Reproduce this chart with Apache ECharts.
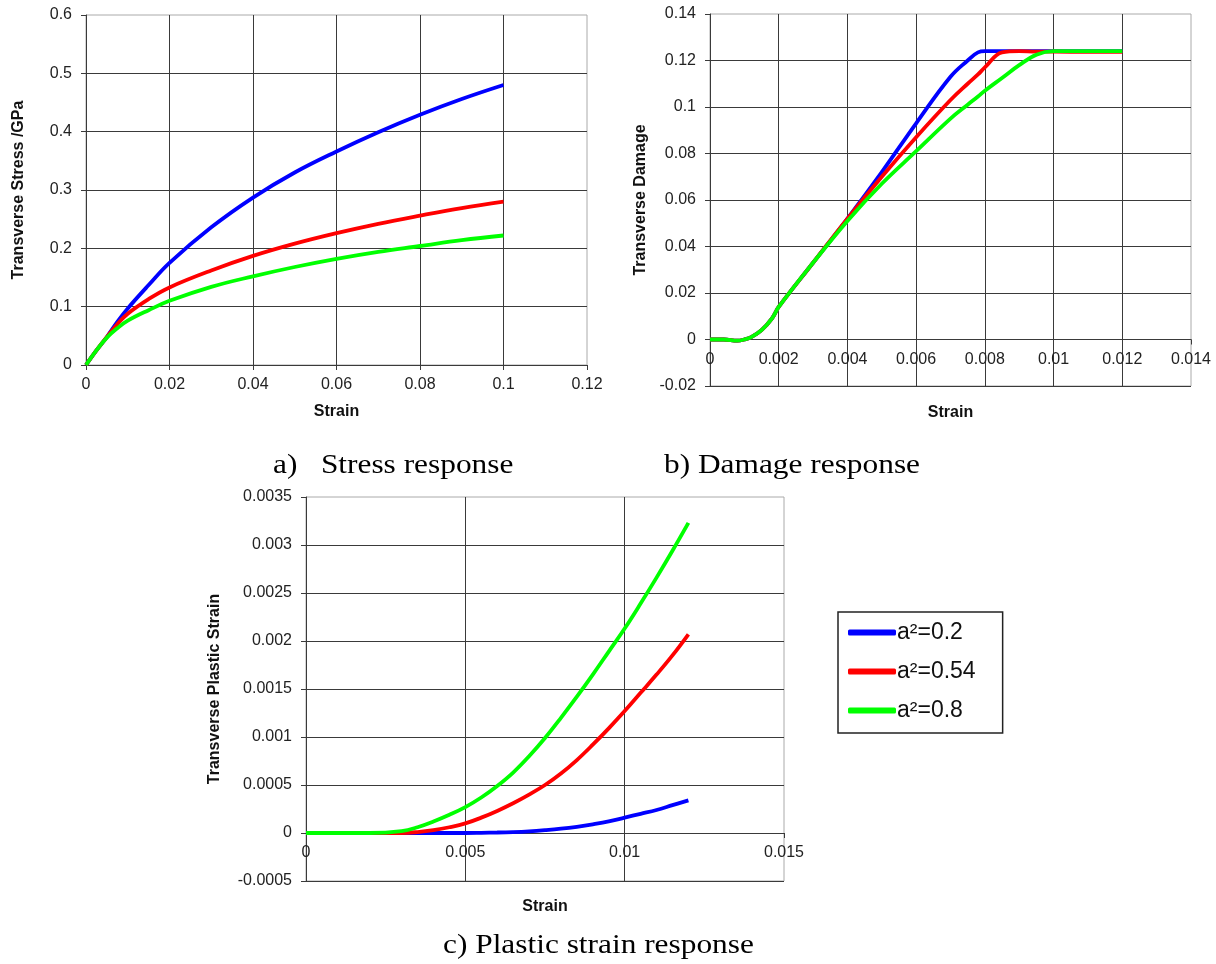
<!DOCTYPE html>
<html>
<head>
<meta charset="UTF-8">
<title>Transverse response</title>
<script src="https://cdn.jsdelivr.net/npm/echarts@6/dist/echarts.min.js"></script>
<style>
  body { margin: 0; background: #fff; }
  #root { width: 1216px; height: 964px; }
</style>
</head>
<body>
<div id="root"></div>
<script>
// legend names
var seriesNames = ['a\u00b2=0.2', 'a\u00b2=0.54', 'a\u00b2=0.8'];
var seriesColors = ['#0000ff', '#ff0000', '#00ff00'];

// a) stress response
var stressX = [0, 0.0025, 0.005, 0.0075, 0.01, 0.015, 0.02, 0.03, 0.04, 0.05, 0.06, 0.07, 0.08, 0.09, 0.1];
var stressBlue = [0, 0.025, 0.048, 0.074, 0.097, 0.137, 0.175, 0.236, 0.287, 0.33, 0.366, 0.399, 0.429, 0.456, 0.48];
var stressRed = [0, 0.025, 0.048, 0.07, 0.088, 0.113, 0.133, 0.162, 0.187, 0.208, 0.226, 0.242, 0.256, 0.269, 0.28];
var stressGreen = [0, 0.025, 0.047, 0.063, 0.076, 0.094, 0.11, 0.134, 0.152, 0.168, 0.182, 0.194, 0.204, 0.214, 0.222];

// b) damage response
var damageX = [0, 0.0004, 0.0008, 0.001, 0.0012, 0.0015, 0.0018, 0.002, 0.003, 0.004, 0.005, 0.006, 0.007, 0.0075, 0.0078, 0.008, 0.0085, 0.009, 0.0095, 0.01, 0.011, 0.012];
var damageBlue = [0, 0, -0.0005, 0, 0.001, 0.004, 0.009, 0.014, 0.033, 0.052, 0.072, 0.093, 0.113, 0.12, 0.1235, 0.124, 0.124, 0.124, 0.124, 0.124, 0.124, 0.124];
var damageRed = [0, 0, -0.0005, 0, 0.001, 0.004, 0.009, 0.014, 0.033, 0.052, 0.07, 0.087, 0.103, 0.11, 0.114, 0.117, 0.1235, 0.124, 0.1238, 0.1238, 0.1237, 0.1237];
var damageGreen = [0, 0, -0.0005, 0, 0.001, 0.004, 0.009, 0.014, 0.033, 0.051, 0.067, 0.081, 0.095, 0.101, 0.1045, 0.107, 0.1125, 0.118, 0.1225, 0.124, 0.124, 0.124];

// c) plastic strain response
var plasticX = [0, 0.001, 0.002, 0.003, 0.0035, 0.004, 0.0045, 0.005, 0.0055, 0.006, 0.0065, 0.007, 0.0075, 0.008, 0.0085, 0.009, 0.0095, 0.01, 0.0105, 0.011, 0.0115, 0.012];
var plasticBlue = [0, 0, 0, 0, 0, 0, 0, 0, 0.000002, 0.000005, 0.00001, 0.000018, 0.00003, 0.000045, 0.000065, 0.00009, 0.00012, 0.00016, 0.0002, 0.00024, 0.00029, 0.00034];
var plasticRed = [0, 0, 0, 0, 0.00001, 0.00003, 0.00006, 0.0001, 0.00016, 0.00023, 0.00031, 0.0004, 0.0005, 0.00062, 0.00076, 0.00092, 0.00109, 0.00127, 0.00146, 0.00165, 0.00185, 0.00207];
var plasticGreen = [0, 0, 0, 0.00002, 0.00006, 0.00012, 0.00019, 0.00027, 0.00037, 0.00049, 0.00063, 0.0008, 0.00099, 0.0012, 0.00142, 0.00165, 0.00189, 0.00213, 0.00239, 0.00266, 0.00294, 0.00323];

function pairs(xs, ys) {
  return xs.map(function (x, i) { return [x, ys[i]]; });
}

var sans = 'Liberation Sans';
var labelStyle = { color: '#222', fontSize: 16, fontFamily: sans };
var nameStyle = { color: '#111', fontSize: 16, fontWeight: 'bold', fontFamily: sans };
var splitStyle = { show: true, showMaxLine: false, lineStyle: { color: '#3a3a3a', width: 1 } };

// the x axis sits on the zero line: shift it up from the grid bottom
function xAxisFor(grid, max, step, gap, shift) {
  return {
    type: 'value', gridIndex: grid, min: 0, max: max, interval: step,
    offset: -shift,
    name: 'Strain', nameLocation: 'middle', nameGap: gap, nameTextStyle: nameStyle,
    axisLine: { show: true, onZero: false, lineStyle: { color: '#3a3a3a' } },
    axisTick: { show: true, length: 5, lineStyle: { color: '#3a3a3a' } },
    axisLabel: Object.assign({ margin: 12 }, labelStyle),
    splitLine: splitStyle
  };
}

function yAxisFor(grid, min, max, step, title, gap) {
  return {
    type: 'value', gridIndex: grid, min: min, max: max, interval: step,
    name: title, nameLocation: 'middle', nameGap: gap, nameTextStyle: nameStyle,
    axisLine: { show: true, onZero: false, lineStyle: { color: '#3a3a3a' } },
    axisTick: { show: true, length: 5, lineStyle: { color: '#3a3a3a' } },
    axisLabel: Object.assign({ margin: 14 }, labelStyle),
    splitLine: splitStyle
  };
}

function lineFor(k, grid, xs, ys) {
  return {
    name: seriesNames[k], type: 'line', xAxisIndex: grid, yAxisIndex: grid,
    data: pairs(xs, ys), smooth: 0.4, showSymbol: false, symbol: 'none',
    lineStyle: { color: seriesColors[k], width: 3.8 },
    itemStyle: { color: seriesColors[k] },
    animation: false
  };
}

var chart = echarts.init(document.getElementById('root'));

var serif = '"Liberation Serif"';

chart.setOption({
  animation: false,
  grid: [
    { left: 86, top: 15, width: 501, height: 350, show: true, borderColor: '#aaa', borderWidth: 1 },
    { left: 710, top: 14, width: 481, height: 372, show: true, borderColor: '#aaa', borderWidth: 1 },
    { left: 306, top: 497, width: 478, height: 384, show: true, borderColor: '#aaa', borderWidth: 1 }
  ],
  xAxis: [
    xAxisFor(0, 0.12, 0.02, 39, 0),
    xAxisFor(1, 0.014, 0.002, 65, 46.5),
    xAxisFor(2, 0.015, 0.005, 66, 48)
  ],
  yAxis: [
    yAxisFor(0, 0, 0.6, 0.1, 'Transverse Stress /GPa', 59),
    yAxisFor(1, -0.02, 0.14, 0.02, 'Transverse Damage', 61),
    yAxisFor(2, -0.0005, 0.0035, 0.0005, 'Transverse Plastic Strain', 83)
  ],
  legend: {
    data: seriesNames,
    orient: 'vertical',
    left: 838, top: 612,
    icon: 'roundRect',
    itemWidth: 48, itemHeight: 6, itemGap: 16,
    padding: [9, 27, 11, 10],
    borderColor: '#222', borderWidth: 1.5,
    textStyle: { color: '#111', fontSize: 23, fontFamily: sans, padding: [0, 0, 0, -4] }
  },
  graphic: [
    { type: 'text', left: 273, top: 452, scaleX: 1.12, style: { text: 'a)   Stress response', font: '28px ' + serif, fill: '#000' } },
    { type: 'text', left: 664, top: 452, scaleX: 1.12, style: { text: 'b) Damage response', font: '28px ' + serif, fill: '#000' } },
    { type: 'text', left: 443, top: 932, scaleX: 1.12, style: { text: 'c) Plastic strain response', font: '28px ' + serif, fill: '#000' } }
  ],
  series: [
    lineFor(0, 0, stressX, stressBlue),
    lineFor(1, 0, stressX, stressRed),
    lineFor(2, 0, stressX, stressGreen),
    lineFor(0, 1, damageX, damageBlue),
    lineFor(1, 1, damageX, damageRed),
    lineFor(2, 1, damageX, damageGreen),
    lineFor(0, 2, plasticX, plasticBlue),
    lineFor(1, 2, plasticX, plasticRed),
    lineFor(2, 2, plasticX, plasticGreen)
  ]
});
</script>
</body>
</html>
